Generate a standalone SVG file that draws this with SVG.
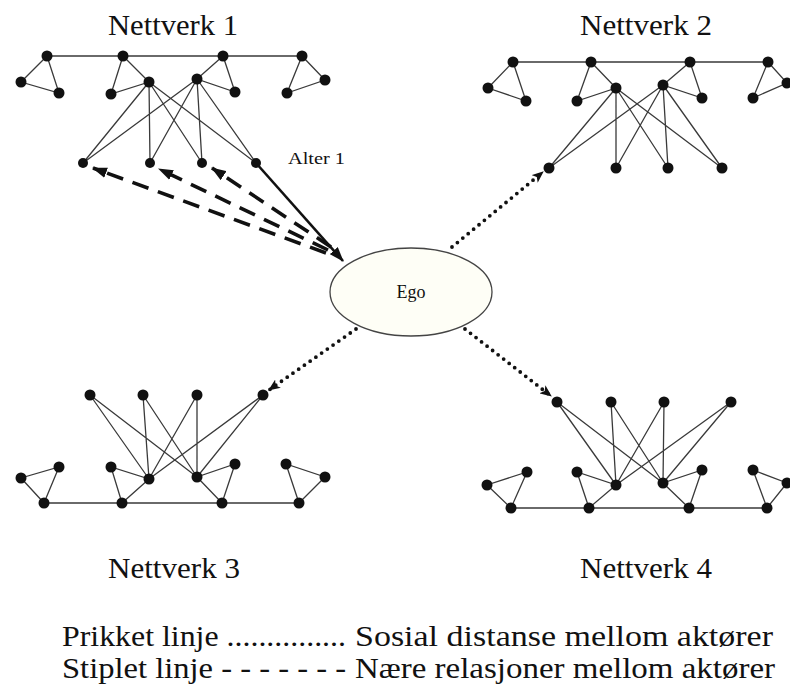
<svg xmlns="http://www.w3.org/2000/svg" width="790" height="688" viewBox="0 0 790 688">
<style>
.e{stroke:#3a3a3a;stroke-width:1.3;fill:none}
.n{fill:#111}
.t{font-family:"Liberation Serif","Times New Roman",serif;fill:#111}
.solid{stroke:#111;stroke-width:2.6;fill:none}
.dash{stroke:#111;stroke-width:3.6;fill:none;stroke-dasharray:17 10}
.dot{stroke:#111;stroke-width:3.8;fill:none;stroke-dasharray:0 7;stroke-linecap:round}
</style>
<defs>
<marker id="ah" viewBox="0 0 14 10" refX="13" refY="5" markerWidth="15" markerHeight="11" markerUnits="userSpaceOnUse" orient="auto">
<path d="M0,0 L14,5 L0,10 z" fill="#111"/>
</marker>
<marker id="ahd" viewBox="0 0 12 10" refX="11" refY="5" markerWidth="12" markerHeight="10" markerUnits="userSpaceOnUse" orient="auto">
<path d="M0,0 L12,5 L0,10 L3,5 z" fill="#111"/>
</marker>
</defs>
<rect width="790" height="688" fill="#fff"/>

<g id="titles" class="t" font-size="30">
<text x="108" y="35" textLength="130" lengthAdjust="spacingAndGlyphs">Nettverk 1</text>
<text x="580" y="35" textLength="132" lengthAdjust="spacingAndGlyphs">Nettverk 2</text>
<text x="108" y="578" textLength="132" lengthAdjust="spacingAndGlyphs">Nettverk 3</text>
<text x="580" y="578" textLength="132" lengthAdjust="spacingAndGlyphs">Nettverk 4</text>
</g>

<g id="connectors">
<path class="solid" d="M256,163 L343,261" marker-end="url(#ah)"/>
<path class="dash" d="M326,253 L93,168" marker-end="url(#ah)"/>
<path class="dash" d="M328,250 L159,169" marker-end="url(#ah)"/>
<path class="dash" d="M331,247 L212,168" marker-end="url(#ah)"/>
<path class="dot" d="M452,247 L543,172" marker-end="url(#ahd)"/>
<path class="dot" d="M356,329 L269,390" marker-end="url(#ahd)"/>
<path class="dot" d="M465,329 L551,396" marker-end="url(#ahd)"/>
</g>

<g id="network1">
<path class="e" d="M47,56 L302,56 M47,56 L21,82 L59,93 Z M123,56 L111,94 L149,82 Z M223,56 L197,79 L235,92 Z M302,56 L287,93 L325,80 Z
M149,82 L83,163 M149,82 L150,163 M149,82 L202,163 M149,82 L256,163
M197,79 L83,163 M197,79 L150,163 M197,79 L202,163 M197,79 L256,163"/>
<g class="n">
<circle cx="47" cy="56" r="5.5"/><circle cx="21" cy="82" r="5.5"/><circle cx="59" cy="93" r="5.5"/>
<circle cx="123" cy="56" r="5.5"/><circle cx="111" cy="94" r="5.5"/><circle cx="149" cy="82" r="5.5"/>
<circle cx="223" cy="56" r="5.5"/><circle cx="197" cy="79" r="5.5"/><circle cx="235" cy="92" r="5.5"/>
<circle cx="302" cy="56" r="5.5"/><circle cx="287" cy="93" r="5.5"/><circle cx="325" cy="80" r="5.5"/>
<circle cx="83" cy="163" r="5"/><circle cx="150" cy="163" r="5"/><circle cx="202" cy="163" r="5"/><circle cx="256" cy="163" r="5"/>
</g>
</g>

<g id="network2">
<path class="e" d="M513,62 L768,62 M513,62 L488,88 L526,101 Z M591,62 L577,101 L616,88 Z M690,62 L663,85 L702,98 Z M768,62 L753,98 L787,83 Z
M616,88 L549,168 M616,88 L616,168 M616,88 L668,168 M616,88 L722,168
M663,85 L549,168 M663,85 L616,168 M663,85 L668,168 M663,85 L722,168"/>
<g class="n">
<circle cx="513" cy="62" r="5.5"/><circle cx="488" cy="88" r="5.5"/><circle cx="526" cy="101" r="5.5"/>
<circle cx="591" cy="62" r="5.5"/><circle cx="577" cy="101" r="5.5"/><circle cx="616" cy="88" r="5.5"/>
<circle cx="690" cy="62" r="5.5"/><circle cx="663" cy="85" r="5.5"/><circle cx="702" cy="98" r="5.5"/>
<circle cx="768" cy="62" r="5.5"/><circle cx="753" cy="98" r="5.5"/><circle cx="787" cy="83" r="5.5"/>
<circle cx="549" cy="168" r="5.5"/><circle cx="616" cy="168" r="5.5"/><circle cx="668" cy="168" r="5.5"/><circle cx="722" cy="168" r="5.5"/>
</g>
</g>

<g id="network3">
<path class="e" d="M44,503 L299,503 M44,503 L21,478 L59,467 Z M122,503 L111,467 L149,479 Z M222,503 L197,477 L235,464 Z M299,503 L286,464 L325,477 Z
M149,479 L90,395 M149,479 L143,395 M149,479 L197,395 M149,479 L263,395
M197,477 L90,395 M197,477 L143,395 M197,477 L197,395 M197,477 L263,395"/>
<g class="n">
<circle cx="44" cy="503" r="5.5"/><circle cx="21" cy="478" r="5.5"/><circle cx="59" cy="467" r="5.5"/>
<circle cx="122" cy="503" r="5.5"/><circle cx="111" cy="467" r="5.5"/><circle cx="149" cy="479" r="5.5"/>
<circle cx="222" cy="503" r="5.5"/><circle cx="197" cy="477" r="5.5"/><circle cx="235" cy="464" r="5.5"/>
<circle cx="299" cy="503" r="5.5"/><circle cx="286" cy="464" r="5.5"/><circle cx="325" cy="477" r="5.5"/>
<circle cx="90" cy="395" r="5.5"/><circle cx="143" cy="395" r="5.5"/><circle cx="197" cy="395" r="5.5"/><circle cx="263" cy="395" r="5.5"/>
</g>
</g>

<g id="network4">
<path class="e" d="M511,508 L767,508 M511,508 L487,485 L527,472 Z M589,508 L577,472 L616,485 Z M689,508 L663,483 L702,470 Z M767,508 L753,470 L787,483 Z
M616,485 L557,402 M616,485 L611,402 M616,485 L664,402 M616,485 L731,402
M663,483 L557,402 M663,483 L611,402 M663,483 L664,402 M663,483 L731,402"/>
<g class="n">
<circle cx="511" cy="508" r="5.5"/><circle cx="487" cy="485" r="5.5"/><circle cx="527" cy="472" r="5.5"/>
<circle cx="589" cy="508" r="5.5"/><circle cx="577" cy="472" r="5.5"/><circle cx="616" cy="485" r="5.5"/>
<circle cx="689" cy="508" r="5.5"/><circle cx="663" cy="483" r="5.5"/><circle cx="702" cy="470" r="5.5"/>
<circle cx="767" cy="508" r="5.5"/><circle cx="753" cy="470" r="5.5"/><circle cx="787" cy="483" r="5.5"/>
<circle cx="557" cy="402" r="5.5"/><circle cx="611" cy="402" r="5.5"/><circle cx="664" cy="402" r="5.5"/><circle cx="731" cy="402" r="5.5"/>
</g>
</g>

<g id="alter1">
<text class="t" x="288" y="164" font-size="17" textLength="57" lengthAdjust="spacingAndGlyphs">Alter 1</text>
</g>

<g id="ego">
<ellipse cx="411" cy="292" rx="81" ry="44" fill="#fefef6" stroke="#444" stroke-width="1.3"/>
<text class="t" x="411" y="298" font-size="18" text-anchor="middle">Ego</text>
</g>

<g id="legend" class="t" font-size="29">
<text x="62" y="646" textLength="284" lengthAdjust="spacingAndGlyphs">Prikket linje ...............</text>
<text x="355" y="646" textLength="418" lengthAdjust="spacingAndGlyphs">Sosial distanse mellom aktører</text>
<text x="62" y="678" textLength="284" lengthAdjust="spacingAndGlyphs">Stiplet linje - - - - - - -</text>
<text x="355" y="678" textLength="420" lengthAdjust="spacingAndGlyphs">Nære relasjoner mellom aktører</text>
</g>
</svg>
